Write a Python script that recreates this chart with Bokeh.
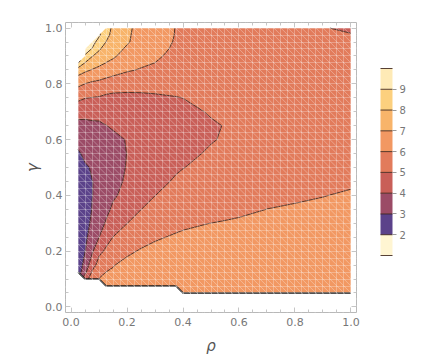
import numpy as np
from bokeh.plotting import figure
from bokeh.models import (LinearAxis, FixedTicker, SingleIntervalTicker, PrintfTickFormatter,
                          Range1d, Slope)
from bokeh.embed import file_html
from bokeh.resources import INLINE

# grid coordinates (rho across, gamma up)
rho = [0.025, 0.05, 0.075, 0.1, 0.125, 0.15, 0.2, 0.25, 0.3, 0.375, 0.4, 0.5, 0.55, 0.6, 0.7, 0.8, 0.9, 1.0]
gamma = [0.05, 0.075, 0.1, 0.125, 0.15, 0.2, 0.25, 0.3, 0.35, 0.4, 0.45, 0.5, 0.55, 0.6, 0.65,
         0.7, 0.75, 0.8, 0.85, 0.875, 0.9, 0.925, 0.95, 0.975, 1.0]

N = None  # undefined (white) region
# estimated surface values, one row per gamma value
z_rows = [
    [N, N, N, N, N, N, N, N, N, N, 6.17, 6.22, 6.26, 6.30, 6.38, 6.47, 6.56, 6.66],
    [N, N, N, N, 6.05, 6.06, 6.12, 6.13, 6.14, 6.15, 6.16, 6.19, 6.23, 6.27, 6.35, 6.43, 6.52, 6.62],
    [N, 4.6, 5.45, 6.03, 6.04, 6.05, 6.12, 6.13, 6.13, 6.14, 6.15, 6.17, 6.20, 6.24, 6.31, 6.39, 6.48, 6.58],
    [2.4, 3.75, 5.1, 5.7, 6.005, 6.04, 6.12, 6.12, 6.12, 6.13, 6.14, 6.15, 6.17, 6.21, 6.28, 6.36, 6.44, 6.53],
    [2.4, 3.35, 4.6, 5.35, 5.65, 5.98, 6.12, 6.11, 6.11, 6.12, 6.13, 6.13, 6.15, 6.18, 6.25, 6.32, 6.40, 6.49],
    [2.35, 2.99, 3.85, 4.8, 5.12, 5.5, 5.92, 6.04, 6.06, 6.07, 6.08, 6.10, 6.11, 6.13, 6.18, 6.25, 6.32, 6.40],
    [2.3, 2.8, 3.4, 3.99, 4.72, 5.01, 5.45, 5.84, 5.974, 6.026, 6.04, 6.07, 6.08, 6.10, 6.13, 6.18, 6.24, 6.31],
    [2.25, 2.7, 3.15, 3.5, 4.12, 4.65, 4.99, 5.40, 5.70, 5.94, 5.96, 6.002, 6.03, 6.05, 6.08, 6.10, 6.16, 6.22],
    [2.25, 2.65, 3.02, 3.2, 3.7, 4.2, 4.6, 4.99, 5.33, 5.58, 5.62, 5.82, 5.88, 5.93, 6.002, 6.03, 6.07, 6.13],
    [2.3, 2.65, 2.99, 3.1, 3.45, 3.85, 4.33, 4.70, 4.99, 5.34, 5.40, 5.62, 5.72, 5.80, 5.93, 5.96, 5.99, 6.04],
    [2.45, 2.75, 2.99, 3.08, 3.3, 3.65, 4.16, 4.50, 4.75, 5.10, 5.20, 5.42, 5.52, 5.62, 5.86, 5.88, 5.91, 5.95],
    [2.65, 2.92, 3.05, 3.02, 3.22, 3.55, 4.06, 4.36, 4.58, 4.90, 4.98, 5.25, 5.33, 5.45, 5.80, 5.81, 5.83, 5.86],
    [2.9, 3.15, 3.2, 3.05, 3.22, 3.55, 4.02, 4.27, 4.46, 4.72, 4.80, 5.10, 5.18, 5.30, 5.73, 5.74, 5.75, 5.77],
    [3.25, 3.4, 3.4, 3.2, 3.35, 3.7, 4.06, 4.24, 4.40, 4.60, 4.68, 4.95, 5.07, 5.18, 5.67, 5.66, 5.66, 5.68],
    [3.7, 3.75, 3.8, 3.8, 3.98, 4.15, 4.2, 4.28, 4.42, 4.57, 4.65, 4.90, 5.03, 5.12, 5.60, 5.59, 5.58, 5.59],
    [4.4, 4.3, 4.35, 4.4, 4.45, 4.55, 4.45, 4.45, 4.55, 4.70, 4.75, 5.08, 5.07, 5.15, 5.54, 5.52, 5.50, 5.50],
    [5.2, 5.03, 4.98, 4.93, 4.8, 4.73, 4.75, 4.8, 4.88, 4.97, 5.01, 5.22, 5.16, 5.20, 5.47, 5.45, 5.42, 5.41],
    [6.23, 5.99, 5.82, 5.75, 5.63, 5.53, 5.4, 5.35, 5.30, 5.30, 5.30, 5.34, 5.26, 5.25, 5.41, 5.37, 5.34, 5.33],
    [7.51, 7.19, 6.955, 6.73, 6.52, 6.36, 6.1, 5.94, 5.80, 5.58, 5.55, 5.45, 5.35, 5.30, 5.35, 5.30, 5.26, 5.24],
    [9.05, 7.95, 7.5, 7.25, 6.98, 6.78, 6.33, 6.14, 5.995, 5.70, 5.66, 5.50, 5.40, 5.32, 5.31, 5.26, 5.21, 5.19],
    [N, 8.9, 8.05, 7.7, 7.32, 7.15, 6.59, 6.32, 6.12, 5.80, 5.75, 5.55, 5.44, 5.34, 5.28, 5.23, 5.17, 5.15],
    [N, 9.4, 8.95, 8.1, 7.66, 7.4, 6.85, 6.48, 6.25, 5.87, 5.82, 5.60, 5.48, 5.36, 5.25, 5.19, 5.13, 5.10],
    [N, N, 9.4, 8.6, 7.98, 7.6, 7.1, 6.6, 6.35, 5.93, 5.87, 5.65, 5.52, 5.38, 5.22, 5.15, 5.09, 5.06],
    [N, N, N, 9.15, 8.25, 7.75, 7.12, 6.7, 6.42, 5.96, 5.91, 5.69, 5.55, 5.40, 5.18, 5.12, 5.05, 5.01],
    [N, N, N, N, 8.35, 7.85, 7.13, 6.78, 6.47, 5.97, 5.93, 5.73, 5.58, 5.42, 5.15, 5.08, 5.01, 4.97],
]

levels = [1, 2, 3, 4, 5, 6, 7, 8, 9, 10]
band_colors = ["#fff5d2", "#5b428a", "#9b4b66", "#c95f58", "#e27b5b",
               "#f29862", "#f8b46a", "#fcd07e", "#feeab6"]
legend_ticks = [2, 3, 4, 5, 6, 7, 8, 9]
axis_major_ticks = [0.0, 0.2, 0.4, 0.6, 0.8, 1.0]
axis_minor_ticks = [0.05, 0.1, 0.15, 0.25, 0.3, 0.35, 0.45, 0.5, 0.55, 0.65, 0.7, 0.75, 0.85, 0.9, 0.95]
mesh_step = 0.025  # sampling mesh spacing

x = np.array(rho, dtype=float)
y = np.array(gamma, dtype=float)
Z = np.array(z_rows, dtype=float)

p = figure(frame_width=291, frame_height=290, min_border_left=65, min_border_top=22,
           min_border_bottom=44, min_border_right=66,
           x_range=Range1d(-0.02, 1.02), y_range=Range1d(-0.02, 1.02),
           output_backend="svg", toolbar_location=None,
           x_axis_label="ρ", y_axis_label="γ")
p.outline_line_color = "#b8b8b8"
p.background_fill_color = "white"
p.border_fill_color = "white"

cr = p.contour(x=x, y=y, z=Z, levels=levels, fill_color=band_colors,
               line_color="#3a2016", line_alpha=0.85, line_width=1)

# light sampling mesh (white on white is invisible outside the filled region)
for g in (p.xgrid[0], p.ygrid[0]):
    g.ticker = SingleIntervalTicker(interval=mesh_step, num_minor_ticks=0)
    g.grid_line_color = "white"
    g.grid_line_alpha = 0.28
    g.grid_line_width = 1
    g.level = "annotation"
n_diag = int(round(2.1 / mesh_step))
for k in range(-1, n_diag + 1):
    p.add_layout(Slope(gradient=-1, y_intercept=k * mesh_step, line_color="white",
                       line_alpha=0.3, line_width=1))

# lower boundary of the defined region
bottom_y = [y[np.flatnonzero(~np.isnan(Z[:, j]))[0]] for j in range(len(x))]
p.line(x, bottom_y, line_color="#1a1a1a", line_width=1.6)

def style_axis(ax):
    ax.axis_line_color = None
    ax.major_tick_line_color = "#b0b0b0"
    ax.minor_tick_line_color = "#b0b0b0"
    ax.major_tick_in = 5
    ax.major_tick_out = 0
    ax.minor_tick_in = 3
    ax.minor_tick_out = 0

for ax in (p.xaxis[0], p.yaxis[0]):
    style_axis(ax)
    ax.ticker = FixedTicker(ticks=axis_major_ticks, minor_ticks=axis_minor_ticks)
    ax.formatter = PrintfTickFormatter(format="%.1f")
    ax.major_label_text_color = "#777777"
    ax.major_label_text_font = "DejaVu Sans"
    ax.major_label_text_font_size = "11px"
    ax.axis_label_text_color = "#555555"
    ax.axis_label_text_font = "DejaVu Sans"
    ax.axis_label_text_font_size = "15px"
    ax.axis_label_text_font_style = "italic"
p.xaxis[0].major_label_standoff = 5
p.xaxis[0].axis_label_standoff = 8
p.yaxis[0].major_label_standoff = 3
p.yaxis[0].axis_label_standoff = 0

# frame ticks on top and right (no labels)
for side in ("above", "right"):
    for ticks, length in ((axis_major_ticks, 5), (axis_minor_ticks, 3)):
        ax = LinearAxis(ticker=FixedTicker(ticks=[], minor_ticks=ticks))
        style_axis(ax)
        ax.minor_tick_in = length
        ax.major_label_standoff = 0
        p.add_layout(ax, side)

cb = cr.construct_color_bar(width=12, height=187, location=(315, 57),
                            major_label_text_font_size="10px",
                            major_label_text_font="DejaVu Sans",
                            major_label_text_color="#777777",
                            major_tick_line_color="#999999",
                            major_tick_in=0, major_tick_out=4,
                            bar_line_color=None, label_standoff=3,
                            padding=0, margin=0, background_fill_alpha=0)
cb.ticker = FixedTicker(ticks=legend_ticks)
p.add_layout(cb, "center")

open("out.html", "w").write(file_html(p, INLINE))
